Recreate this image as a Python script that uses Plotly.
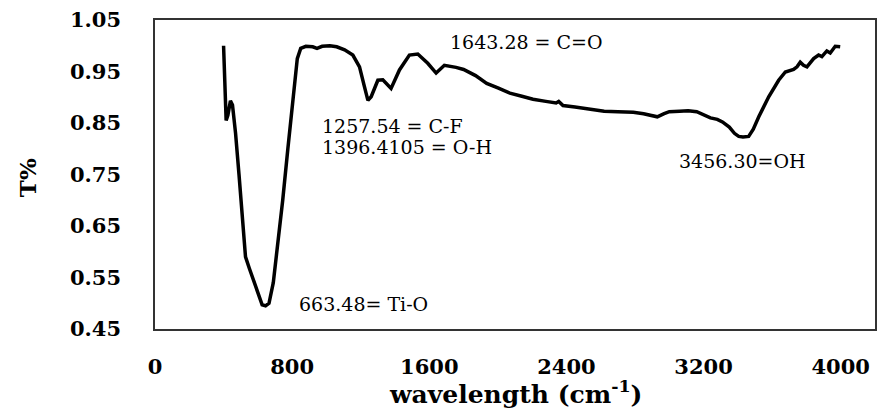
import plotly.graph_objects as go

wavenumber = [400, 405, 410, 415, 425, 440, 452, 470, 490, 510, 528, 550, 575, 600, 625, 645, 665,
              690, 715, 745, 775, 805, 830, 850, 880, 920, 945, 975, 1020, 1060, 1106, 1154,
              1193, 1222, 1242, 1261, 1300, 1329, 1377, 1426, 1484, 1533, 1591,
              1640, 1688, 1756, 1800, 1870, 1935, 2000, 2070, 2140, 2205, 2280, 2340,
              2355, 2380, 2450, 2540, 2620, 2700, 2790, 2850, 2900, 2930, 2970, 3000, 3060, 3110,
              3160, 3200, 3240, 3280, 3310, 3350, 3380, 3405, 3430, 3463, 3490, 3522, 3580, 3638,
              3677, 3725, 3745, 3764, 3783, 3803, 3842, 3871, 3890, 3919, 3939, 3968, 3997]
transmittance = [1.000, 0.960, 0.880, 0.855, 0.865, 0.893, 0.885, 0.830, 0.750, 0.660, 0.590, 0.568,
                 0.545, 0.520, 0.497, 0.495, 0.500, 0.540, 0.610, 0.700, 0.800, 0.894, 0.975, 0.995,
                 0.999, 0.998, 0.995, 0.999, 1.000, 0.998, 0.992, 0.982,
                 0.959, 0.920, 0.894, 0.901, 0.933, 0.934, 0.917, 0.953, 0.982, 0.984, 0.966,
                 0.947, 0.962, 0.958, 0.954, 0.942, 0.927, 0.918, 0.908, 0.902, 0.896, 0.892,
                 0.889, 0.892, 0.884, 0.881, 0.876, 0.873, 0.872, 0.871, 0.868, 0.865, 0.862, 0.868,
                 0.872, 0.873, 0.874, 0.872, 0.866, 0.860, 0.857, 0.852, 0.842, 0.830, 0.824, 0.823,
                 0.824, 0.838, 0.862, 0.901, 0.933,
                 0.949, 0.954, 0.959, 0.968, 0.962, 0.959, 0.975, 0.982, 0.979, 0.990, 0.986, 0.999, 0.998]

x_ticks = [0, 800, 1600, 2400, 3200, 4000]
y_ticks = [0.45, 0.55, 0.65, 0.75, 0.85, 0.95, 1.05]

peak_labels = ["1643.28 = C=O", "1257.54 = C-F", "1396.4105 = O-H", "3456.30=OH", "663.48= Ti-O"]
label_x = [1711, 960, 960, 3044, 827]
label_y = [1.007, 0.845, 0.803, 0.777, 0.499]

SERIF = "DejaVu Serif, Liberation Serif, serif"

fig = go.Figure()
fig.add_trace(go.Scatter(x=wavenumber, y=transmittance, mode="lines",
                         line=dict(color="black", width=3.5), showlegend=False))

for t, xx, yy in zip(peak_labels, label_x, label_y):
    fig.add_annotation(x=xx, y=yy, text=t, showarrow=False, xanchor="left", yanchor="middle",
                       font=dict(family=SERIF, size=19, color="black"))

fig.add_annotation(xref="paper", yref="paper", x=-0.177, y=0.49, text="<b>T%</b>", textangle=-90,
                   showarrow=False, xanchor="center", yanchor="middle",
                   font=dict(family=SERIF, size=23, color="black"))
fig.add_annotation(xref="paper", yref="paper", x=0.5, y=-0.205, text="<b>wavelength (cm<sup>-1</sup>)</b>",
                   showarrow=False, xanchor="center", yanchor="middle",
                   font=dict(family=SERIF, size=25, color="black"))

fig.update_layout(
    width=878, height=412,
    margin=dict(l=155, r=1, t=20, b=83),
    paper_bgcolor="white", plot_bgcolor="white",
    xaxis=dict(range=[0, 4200], tickvals=x_ticks, ticktext=[str(v) for v in x_ticks],
               showgrid=False, zeroline=False, showline=True, linecolor="#333", linewidth=1.5,
               mirror=True, ticks="", ticklabelstandoff=18,
               tickfont=dict(family=SERIF, size=21, color="black", weight="bold")),
    yaxis=dict(range=[0.45, 1.05], tickvals=y_ticks, ticktext=[f"{v:.2f}" for v in y_ticks],
               showgrid=False, zeroline=False, showline=True, linecolor="#333", linewidth=1.5,
               mirror=True, ticks="", ticklabelstandoff=28,
               tickfont=dict(family=SERIF, size=21, color="black", weight="bold")),
)

fig.write_html("out.html", config={"displayModeBar": False},
               post_script="document.body.style.margin='0';document.body.style.overflow='hidden';")
